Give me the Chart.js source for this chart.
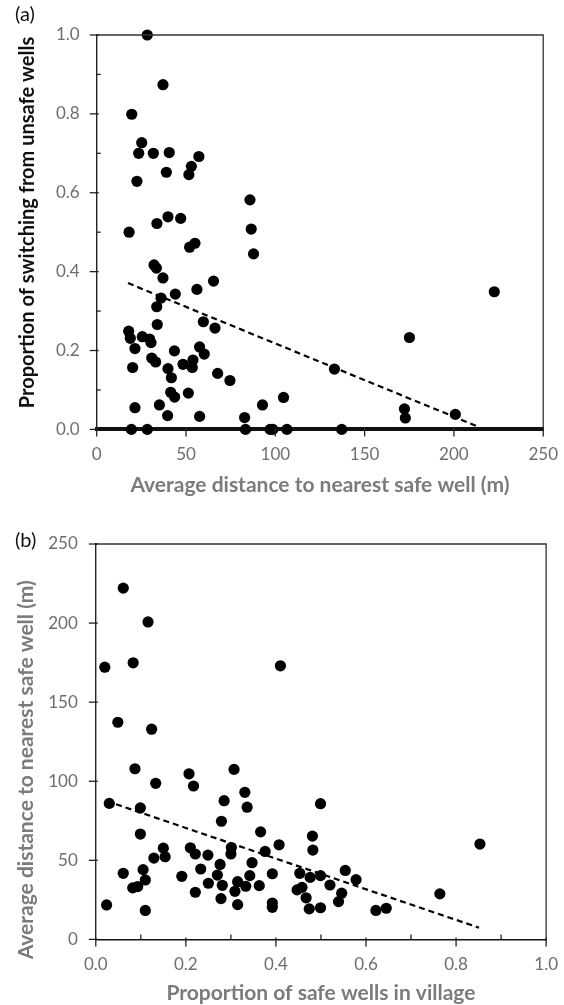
<!DOCTYPE html>
<html>
<head>
<meta charset="utf-8">
<script src="https://cdn.jsdelivr.net/npm/chart.js@4.4.1/dist/chart.umd.min.js"></script>
<style>
  body { margin: 0; background: #fff; width: 564px; height: 1005px; position: relative; overflow: hidden; font-family: Lato, sans-serif; }
  .box { position: absolute; left: 0; width: 573px; }
  .lab { position: absolute; font-size: 20px; color: #111; font-family: Lato, sans-serif; }
</style>
</head>
<body>
<div class="box" style="top:0;height:500px"><canvas id="chartA"></canvas></div>
<div class="box" style="top:500px;height:506px"><canvas id="chartB"></canvas></div>
<div class="lab" style="left:15px;top:1px">(a)</div>
<div class="lab" style="left:15px;top:527px">(b)</div>
<script>
// (a) distance to nearest safe well vs proportion switching
const distA = [28.3, 37.1, 19.6, 25.2, 23.5, 31.7, 40.6, 57.2, 53.0, 51.6, 39.0, 22.5, 85.8, 39.9, 47.0,
  33.7, 18.1, 86.5, 87.8, 52.0, 55.0, 32.1, 33.4, 37.1, 65.4, 56.1, 44.0, 36.0, 33.6, 33.9,
  59.7, 66.2, 17.9, 18.8, 25.5, 29.6, 30.4, 21.4, 43.5, 57.6, 60.2, 30.8, 33.0, 20.1, 39.9,
  41.8, 48.3, 53.9, 53.5, 67.7, 74.6, 41.4, 43.6, 51.3, 21.4, 35.1, 39.7, 57.6, 82.8, 92.8,
  104.6, 19.4, 28.3, 83.3, 97.1, 98.6, 106.5, 137.2, 222.6, 175.1, 133.1, 172.3, 172.8, 200.8];
const switchA = [1.00, 0.874, 0.799, 0.727, 0.700, 0.700, 0.702, 0.692, 0.667, 0.646, 0.652, 0.629, 0.582, 0.539, 0.535,
  0.522, 0.500, 0.508, 0.445, 0.462, 0.472, 0.417, 0.409, 0.384, 0.376, 0.355, 0.343, 0.333, 0.311, 0.266,
  0.273, 0.257, 0.249, 0.231, 0.235, 0.229, 0.220, 0.205, 0.199, 0.209, 0.191, 0.181, 0.171, 0.157, 0.154,
  0.131, 0.165, 0.176, 0.157, 0.142, 0.124, 0.094, 0.082, 0.092, 0.055, 0.062, 0.035, 0.033, 0.030, 0.062,
  0.081, 0, 0, 0, 0, 0, 0, 0, 0.349, 0.233, 0.153, 0.052, 0.029, 0.038];
const trendAx = [17.5, 213];
const trendAy = [0.371, 0.008];

// (b) proportion of safe wells vs distance
const propB = [0.087, 0.133, 0.207, 0.217, 0.307, 0.331, 0.285, 0.336, 0.030, 0.099, 0.279, 0.099, 0.366, 0.150, 0.154,
  0.129, 0.210, 0.221, 0.249, 0.301, 0.300, 0.376, 0.407, 0.276, 0.347, 0.233, 0.105, 0.110, 0.061, 0.191,
  0.270, 0.250, 0.281, 0.315, 0.309, 0.333, 0.342, 0.363, 0.392, 0.082, 0.093, 0.221, 0.278, 0.315, 0.024,
  0.110, 0.392, 0.392, 0.499, 0.481, 0.482, 0.554, 0.578, 0.453, 0.476, 0.499, 0.520, 0.447, 0.458, 0.467,
  0.546, 0.539, 0.474, 0.499, 0.622, 0.645, 0.764, 0.853, 0.061, 0.116, 0.020, 0.083, 0.410, 0.049, 0.124];
const distB = [107.9, 98.7, 104.7, 97, 107.5, 93, 87.7, 83.6, 86, 83.1, 74.7, 66.6, 68, 57.7, 52.3,
  51.4, 57.9, 54, 53.3, 58.1, 54, 55.6, 59.8, 47.4, 48.5, 44.5, 44.1, 37.6, 41.8, 39.9,
  40.7, 35.5, 34.2, 36.5, 30.4, 33.6, 40.3, 34, 41.5, 32.6, 33.4, 29.8, 25.8, 22, 21.8,
  18.3, 23, 20.3, 85.8, 65.3, 56.5, 43.6, 37.8, 41.8, 39.2, 40.3, 34.4, 31.3, 32.9, 26.3,
  29.2, 23.9, 19.3, 20, 18.3, 19.7, 28.8, 60.3, 222.1, 200.7, 172.1, 174.9, 173, 137.3, 132.9];
const trendBx = [0.024, 0.851];
const trendBy = [87.5, 7.4];

const tickGrey = '#6e6e6e';
const titleGrey = '#7b7b7b';

function pts(xs, ys) { return xs.map((v, i) => ({ x: v, y: ys[i] })); }

// frame (top + right) and the little tick marks
const frameTicks = {
  id: 'frameTicks',
  afterDraw(chart, args, o) {
    const { ctx, chartArea: a, scales } = chart;
    const x = scales.x, y = scales.y;
    ctx.save();
    ctx.strokeStyle = '#333';
    ctx.lineWidth = 1.3;
    ctx.beginPath();
    ctx.moveTo(a.left, a.top);
    ctx.lineTo(a.right, a.top);
    ctx.lineTo(a.right, a.bottom);
    ctx.stroke();
    ctx.strokeStyle = '#222';
    for (let v = y.min; v <= y.max + 1e-9; v += o.yMinor) {
      const py = y.getPixelForValue(v);
      const major = Math.abs(v / o.yMajor - Math.round(v / o.yMajor)) < 1e-6;
      ctx.beginPath();
      if (major) { ctx.moveTo(a.left - 7, py); ctx.lineTo(a.left + 2, py); }
      else { ctx.moveTo(a.left, py); ctx.lineTo(a.left + 4, py); }
      ctx.stroke();
    }
    for (let v = x.min; v <= x.max + 1e-9; v += o.xMinor) {
      const px = x.getPixelForValue(v);
      const major = Math.abs(v / o.xMajor - Math.round(v / o.xMajor)) < 1e-6;
      ctx.beginPath();
      if (major) { ctx.moveTo(px, a.bottom - 2); ctx.lineTo(px, a.bottom + 7); }
      else { ctx.moveTo(px, a.bottom - 5); ctx.lineTo(px, a.bottom); }
      ctx.stroke();
    }
    ctx.restore();
  }
};

function makeChart(id, xs, ys, tx, ty, cfg) {
  return new Chart(document.getElementById(id), {
    type: 'scatter',
    data: {
      datasets: [
        {
          data: pts(xs, ys),
          backgroundColor: '#000',
          borderWidth: 0,
          pointRadius: 5.6,
          pointHoverRadius: 5.6,
          clip: false
        },
        {
          data: pts(tx, ty),
          showLine: true,
          borderColor: '#000',
          borderWidth: 2.2,
          borderDash: [6, 4],
          pointRadius: 0,
          fill: false
        }
      ]
    },
    options: {
      responsive: true,
      maintainAspectRatio: false,
      animation: false,
      layout: { padding: cfg.padding },
      plugins: {
        legend: { display: false },
        tooltip: { enabled: false },
        frameTicks: cfg.ticks
      },
      scales: {
        x: {
          type: 'linear',
          min: cfg.xMin, max: cfg.xMax,
          grid: { display: false, drawTicks: false },
          border: { display: true, color: '#111', width: cfg.xBorder },
          ticks: {
            stepSize: cfg.xStep,
            color: tickGrey,
            padding: 15,
            font: { family: 'Lato', size: 17 },
            callback: cfg.xFmt
          },
          title: {
            display: true,
            text: cfg.xTitle,
            color: titleGrey,
            font: { family: 'Lato', size: 21, weight: 'bold' },
            padding: { top: cfg.xTitlePad, bottom: 0 }
          }
        },
        y: {
          min: cfg.yMin, max: cfg.yMax,
          grid: { display: false, drawTicks: false },
          border: { display: true, color: '#222', width: 1.4 },
          ticks: {
            stepSize: cfg.yStep,
            color: tickGrey,
            padding: cfg.yTickPad,
            font: { family: 'Lato', size: 17 },
            callback: cfg.yFmt
          },
          title: {
            display: true,
            text: cfg.yTitle,
            color: cfg.yTitleColor,
            font: { family: 'Lato', size: cfg.yTitleSize, weight: 'bold' },
            padding: cfg.yTitlePad
          }
        }
      }
    },
    plugins: [frameTicks]
  });
}

makeChart('chartA', distA, switchA, trendAx, trendAy, {
  padding: { left: 4, right: 0, top: 35, bottom: 2 },
  xTitle: 'Average distance to nearest safe well (m)',
  xTitlePad: -7,
  yTitle: '    Proportion of switching from unsafe wells',
  yTitleColor: '#111',
  yTitleSize: 20,
  yTitlePad: { top: 12, bottom: -1 },
  yTickPad: 17,
  xMin: 0, xMax: 250, xStep: 50, xBorder: 4,
  yMin: 0, yMax: 1, yStep: 0.2,
  xFmt: v => v.toString(),
  yFmt: v => v.toFixed(1),
  ticks: { xMajor: 50, xMinor: 50, yMajor: 0.2, yMinor: 0.1 }
});

makeChart('chartB', propB, distB, trendBx, trendBy, {
  padding: { left: 4, right: 0, top: 44, bottom: 0 },
  xTitle: 'Proportion of safe wells in village',
  xTitlePad: -9,
  yTitle: 'Average distance to nearest safe well (m)           ',
  yTitleColor: titleGrey,
  yTitleSize: 21,
  yTitlePad: { top: 10, bottom: -9 },
  yTickPad: 18,
  xMin: 0, xMax: 1, xStep: 0.2, xBorder: 1.4,
  yMin: 0, yMax: 250, yStep: 50,
  xFmt: v => v.toFixed(1),
  yFmt: v => v.toString(),
  ticks: { xMajor: 0.2, xMinor: 0.1, yMajor: 50, yMinor: 50 }
});
</script>
</body>
</html>
